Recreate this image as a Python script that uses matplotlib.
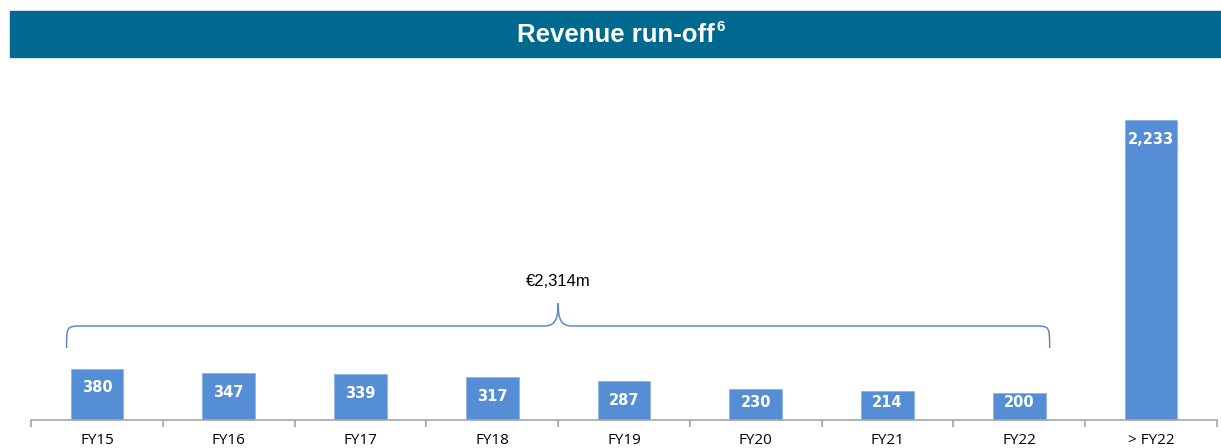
import matplotlib.pyplot as plt
from matplotlib.patches import Rectangle, PathPatch
from matplotlib.path import Path
import numpy as np

# data
categories = ['FY15', 'FY16', 'FY17', 'FY18', 'FY19', 'FY20', 'FY21', 'FY22', '> FY22']
values = [380, 347, 339, 317, 287, 230, 214, 200, 2233]
value_labels = ['380', '347', '339', '317', '287', '230', '214', '200', '2,233']
brace_label = '€2,314m'
title = 'Revenue run-off'
title_note = '6'

bar_color = '#558ED5'
head_color = '#006990'
brace_color = '#5B8ACB'

fig = plt.figure(figsize=(12.21, 4.48), dpi=100)

# header band
fig.patches.append(Rectangle((10 / 1221, 1 - 57 / 448), 1 - 10 / 1221, 46 / 448,
                             transform=fig.transFigure, color=head_color, zorder=0))
t = fig.text(616 / 1221, 1 - 35 / 448, title, color='white', fontsize=18.5,
             fontweight='bold', family='Liberation Sans', ha='center', va='center')
fig.canvas.draw()
bb = t.get_window_extent()
fig.text((bb.x1 + 2) / 1221, 1 - 27 / 448, title_note, color='white', fontsize=11,
         fontweight='bold', family='Liberation Sans', ha='left', va='center')

ax = fig.add_axes([31 / 1221, 28 / 448, 1186 / 1221, 350 / 448])
x = np.arange(len(categories))
ax.bar(x, values, width=0.4, color=bar_color, edgecolor='#8DB3E2', linewidth=0.6, zorder=2)
ax.set_xlim(-0.5, len(categories) - 0.5)
ax.set_ylim(0, 2606)

# value labels inside bars
px = 2606 / 350.0
for xi, v, lab in zip(x, values, value_labels):
    ypos = max(v - 19 * px, 18 * px)
    ax.text(xi, ypos, lab, color='white', fontweight='bold', fontsize=10.5,
            family='DejaVu Sans', ha='center', va='center', zorder=3)

# axes styling
for s in ['top', 'right', 'left']:
    ax.spines[s].set_visible(False)
ax.spines['bottom'].set_color('#A6A6A6')
ax.spines['bottom'].set_linewidth(1.2)
ax.set_yticks([])
ax.set_xticks(np.arange(len(categories) + 1) - 0.5)
ax.set_xticklabels([])
ax.set_xticks(x, minor=True)
ax.set_xticklabels(categories, minor=True, fontsize=11, family='Open Sans')
ax.tick_params(axis='x', which='major', length=5, color='#A6A6A6', width=1.2)
ax.tick_params(axis='x', which='minor', length=0, pad=9)

# brace over FY15..FY22
x0, x1 = -0.23, 7.23
xm = (x0 + x1) / 2
y_end = (420 - 348) * px
y_line = (420 - 326) * px
y_tip = (420 - 303) * px
dxe = 16 / 131.8
dxt = 14 / 131.8
verts = [
    (x0, y_end), (x0, y_line), (x0, y_line), (x0 + dxe, y_line),
    (xm - dxt, y_line),
    (xm - 0.2 * dxt, y_line), (xm, y_line + 0.3 * (y_tip - y_line)), (xm, y_tip),
    (xm, y_line + 0.3 * (y_tip - y_line)), (xm + 0.2 * dxt, y_line), (xm + dxt, y_line),
    (x1 - dxe, y_line),
    (x1, y_line), (x1, y_line), (x1, y_end),
]
codes = [Path.MOVETO, Path.CURVE4, Path.CURVE4, Path.CURVE4,
         Path.LINETO,
         Path.CURVE4, Path.CURVE4, Path.CURVE4,
         Path.CURVE4, Path.CURVE4, Path.CURVE4,
         Path.LINETO,
         Path.CURVE4, Path.CURVE4, Path.CURVE4]
ax.add_patch(PathPatch(Path(verts, codes), fill=False, edgecolor=brace_color, lw=1.1))
ax.text(xm, (420 - 281) * px, brace_label, fontsize=12, family='Liberation Sans',
        ha='center', va='center')

fig.savefig('out.png', dpi=100)
